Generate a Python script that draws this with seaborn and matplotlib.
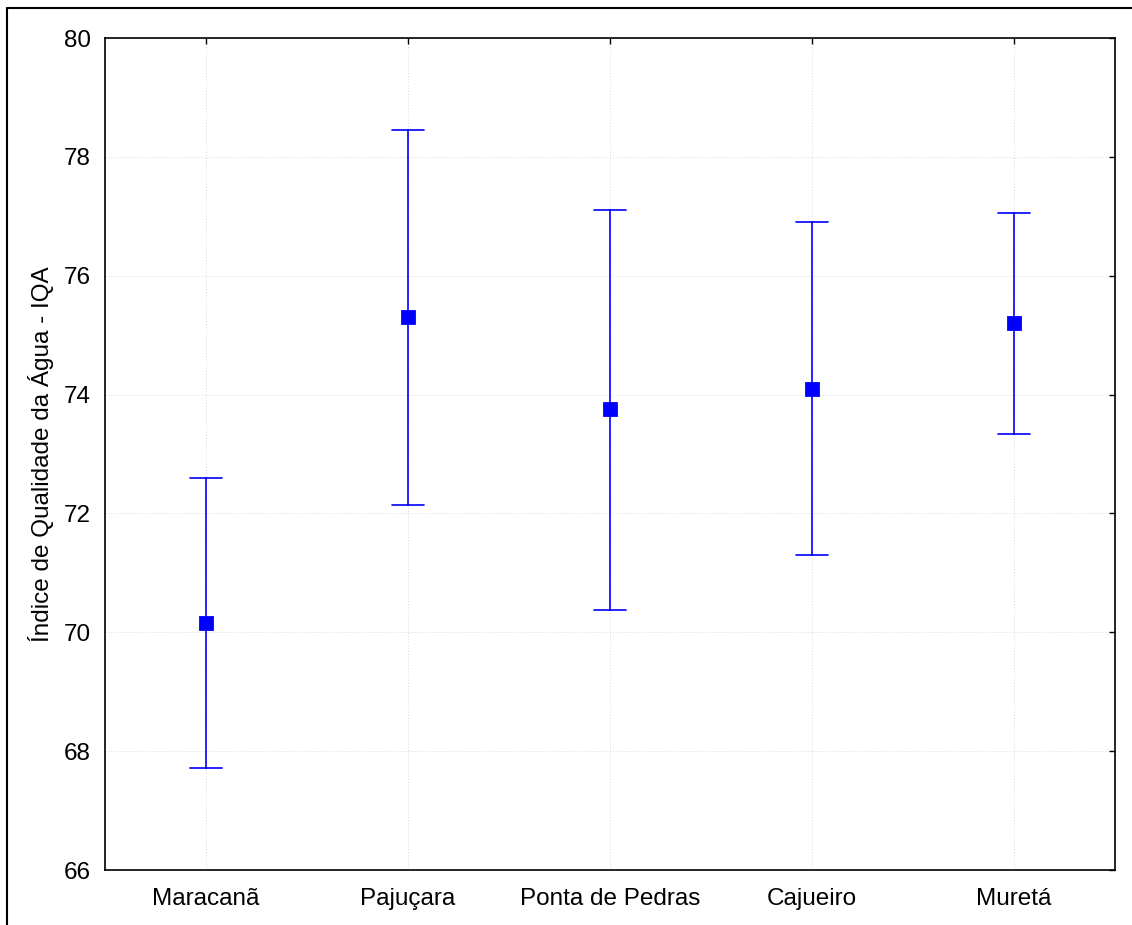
import pandas as pd
import numpy as np
import matplotlib
matplotlib.use('Agg')
import matplotlib.pyplot as plt
import seaborn as sns
from matplotlib.lines import Line2D

# dados (média e limites do intervalo)
locais = ['Maracanã', 'Pajuçara', 'Ponta de Pedras', 'Cajueiro', 'Muretá']
media = [70.15, 75.30, 73.75, 74.10, 75.20]
limite_inf = [67.71, 72.14, 70.38, 71.30, 73.33]
limite_sup = [72.59, 78.45, 77.11, 76.90, 77.06]

# tabela longa: mediana = média, faixa (pi 100) = limites
df = pd.DataFrame({
    'local': locais * 3,
    'iqa': limite_inf + media + limite_sup,
})

sns.set_style('white')
plt.rcParams['font.family'] = ['Liberation Sans', 'DejaVu Sans']

fig = plt.figure(figsize=(11.32, 9.25), dpi=100)
ax = fig.add_axes([105 / 1132, 1 - 870 / 925, 1010 / 1132, 832 / 925])

sns.pointplot(data=df, x='local', y='iqa', order=locais,
              estimator='median', errorbar=('pi', 100),
              linestyle='none', marker='s', markersize=9,
              capsize=0.155, color='#0000ff',
              err_kws={'linewidth': 1.2}, ax=ax)

ax.set_ylim(66, 80)
ax.set_xlim(-0.5, 4.5)
ax.set_yticks(np.arange(66, 81, 2))
ax.set_xlabel('')
ax.set_ylabel('Índice de Qualidade da Água - IQA', fontsize=17.5,
              labelpad=7, color='black')
ax.tick_params(axis='both', direction='in', length=4, width=1, labelsize=17.5,
               top=True, right=True, colors='black')
ax.tick_params(axis='x', pad=13)
ax.tick_params(axis='y', pad=10)
ax.grid(True, linestyle=(0, (1, 2)), color='#d8d8d8', linewidth=0.7)
ax.set_axisbelow(True)
for s in ax.spines.values():
    s.set_color('black')
    s.set_linewidth(1.2)

# moldura externa (esquerda e topo)
fig.add_artist(Line2D([7 / 1132, 7 / 1132], [0, 1 - 8 / 925],
                      transform=fig.transFigure, color='black', linewidth=1.5))
fig.add_artist(Line2D([7 / 1132, 1], [1 - 8 / 925, 1 - 8 / 925],
                      transform=fig.transFigure, color='black', linewidth=1.5))

fig.savefig('out.png', dpi=100)
